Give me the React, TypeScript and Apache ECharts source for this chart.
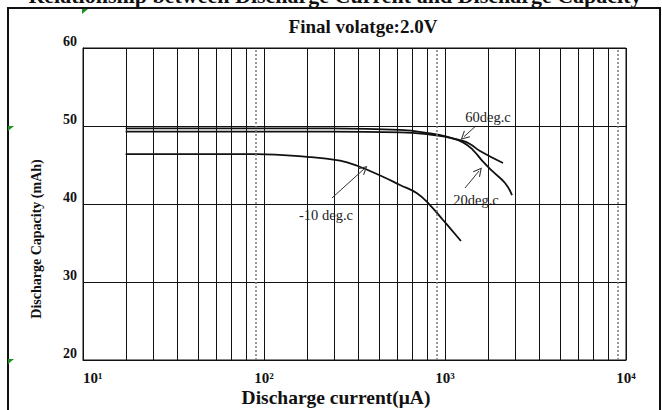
import React, { useEffect, useRef } from "react";
import * as echarts from "echarts";

// ---- data ----
const current20 = [17.2, 231, 564, 826, 1022, 1257, 1428, 1622, 1841, 2146, 2345];
const capacity20 = [49.7, 49.7, 49.5, 49.06, 48.63, 47.9, 46.92, 45.42, 44.14, 42.69, 41.15];
const current60 = [17.2, 231, 564, 826, 1022, 1257, 1374, 1561, 2091];
const capacity60 = [49.27, 49.27, 49.17, 48.91, 48.59, 48.1, 47.7, 46.79, 45.26];
const currentM10 = [17.2, 91, 173, 263, 327, 454, 564, 700, 826, 975, 1225];
const capacityM10 = [46.4, 46.4, 46.05, 45.55, 44.9, 43.5, 42.44, 41.37, 39.87, 37.95, 35.26];

const decades = [10, 100, 1000];
const minorMultipliers = [1.73, 2.44, 3.31, 4.32, 5.43, 6.57, 7.95];
const dottedMultiplier = 9;
const xTickLabels: Record<number, string> = { 10: "10¹", 100: "10²", 1000: "10³", 10000: "10⁴" };
const yMin = 20;
const yMax = 60;
const yStep = 10;

const arrows60 = [[1465, 49.91], [1274, 48.63]];
const arrows20 = [[1290, 42.05], [1542, 44.23]];
const arrowsM10 = [[237.5, 40.77], [356.8, 44.49]];

const SERIF = '"Liberation Serif", "DejaVu Serif", serif';

const zip = (xs: number[], ys: number[]) => xs.map((x, i) => [x, ys[i]]);

export default function App() {
  const ref = useRef<HTMLDivElement>(null);
  useEffect(() => {
    if (!ref.current) return;
    const chart = echarts.init(ref.current, undefined, { renderer: "svg" });

    const minorLines: any[] = [];
    const dottedLines: any[] = [];
    decades.forEach((d) => {
      minorMultipliers.forEach((m) => minorLines.push({ xAxis: d * m }));
      dottedLines.push({ xAxis: d * dottedMultiplier });
    });

    const chevron = "path://M0,0 L5,9 L4,9.6 L0,2.4 L-4,9.6 L-5,9 Z";
    const arrowLine = (pts: number[][]) => [{ coord: pts[0] }, { coord: pts[1] }];

    const curveStyle = { color: "#111", width: 1.8 };

    const green = "#1f8f1f";
    chart.setOption({
      animation: false,
      backgroundColor: "#fff",
      grid: {
        left: 83,
        right: 36,
        top: 48,
        bottom: 50,
        show: true,
        borderColor: "#111",
        borderWidth: 1,
      },
      xAxis: {
        type: "log",
        logBase: 10,
        min: 10,
        max: 10000,
        axisLine: { show: true, lineStyle: { color: "#111" } },
        axisTick: { show: false },
        splitLine: { show: true, lineStyle: { color: "#111", width: 1 } },
        axisLabel: {
          margin: 10,
          fontFamily: SERIF,
          fontWeight: "bold",
          fontSize: 15,
          color: "#111",
          alignMinLabel: "left",
          formatter: (v: number) => xTickLabels[Math.round(v)] || "",
        },
      },
      yAxis: {
        type: "value",
        min: yMin,
        max: yMax,
        interval: yStep,
        axisLine: { show: true, lineStyle: { color: "#111" } },
        axisTick: { show: false },
        splitLine: { show: true, lineStyle: { color: "#111", width: 1 } },
        axisLabel: {
          margin: 6,
          verticalAlign: "bottom",
          fontFamily: SERIF,
          fontWeight: "bold",
          fontSize: 14,
          color: "#111",
        },
      },
      series: [
        {
          name: "grid-minor",
          type: "line",
          data: [],
          silent: true,
          markLine: {
            silent: true,
            symbol: "none",
            label: { show: false },
            lineStyle: { color: "#111", width: 1, type: "solid" },
            data: minorLines,
          },
        },
        {
          name: "grid-dotted",
          type: "line",
          data: [],
          silent: true,
          markLine: {
            silent: true,
            symbol: "none",
            label: { show: false },
            lineStyle: { color: "#777", width: 1.5, type: [2, 2] },
            data: dottedLines,
          },
        },
        {
          name: "20deg.c",
          type: "line",
          data: zip(current20, capacity20),
          showSymbol: false,
          smooth: 0.45,
          lineStyle: curveStyle,
        },
        {
          name: "60deg.c",
          type: "line",
          data: zip(current60, capacity60),
          showSymbol: false,
          smooth: 0.45,
          lineStyle: curveStyle,
        },
        {
          name: "-10deg.c",
          type: "line",
          data: zip(currentM10, capacityM10),
          showSymbol: false,
          smooth: 0.45,
          lineStyle: curveStyle,
        },
        {
          name: "arrows",
          type: "line",
          data: [],
          silent: true,
          markLine: {
            silent: true,
            symbol: ["none", chevron],
            symbolSize: [9, 9],
            label: { show: false },
            lineStyle: { color: "#333", width: 1, type: "solid" },
            data: [arrowLine(arrows60), arrowLine(arrows20), arrowLine(arrowsM10)],
          },
        },
      ],
      graphic: [
        {
          type: "rect",
          shape: { x: 8, y: 8, width: 652, height: 420 },
          style: { fill: "none", stroke: "#111", lineWidth: 2 },
          silent: true,
        },
        {
          type: "text",
          x: 335,
          y: 6,
          style: {
            text: "Relationship between Discharge Current and Discharge Capacity",
            font: `bold 22px ${SERIF}`,
            fill: "#111",
            align: "center",
            verticalAlign: "bottom",
          },
        },
        {
          type: "text",
          x: 363,
          y: 26,
          style: {
            text: "Final volatge:2.0V",
            font: `bold 19px ${SERIF}`,
            fill: "#111",
            align: "center",
            verticalAlign: "middle",
          },
        },
        {
          type: "text",
          x: 336,
          y: 397,
          style: {
            text: "Discharge current(μA)",
            font: `bold 19.5px ${SERIF}`,
            fill: "#111",
            align: "center",
            verticalAlign: "middle",
          },
        },
        {
          type: "text",
          x: 36,
          y: 239,
          rotation: Math.PI / 2,
          style: {
            text: "Discharge Capacity (mAh)",
            font: `bold 14px ${SERIF}`,
            fill: "#111",
            align: "center",
            verticalAlign: "middle",
          },
        },
        {
          type: "text",
          x: 488,
          y: 117,
          style: { text: "60deg.c", font: `14.5px ${SERIF}`, fill: "#222", align: "center", verticalAlign: "middle" },
        },
        {
          type: "text",
          x: 476,
          y: 200,
          style: { text: "20deg.c", font: `14.5px ${SERIF}`, fill: "#222", align: "center", verticalAlign: "middle" },
        },
        {
          type: "text",
          x: 326,
          y: 215,
          style: { text: "-10 deg.c", font: `14.5px ${SERIF}`, fill: "#222", align: "center", verticalAlign: "middle" },
        },
        { type: "polygon", shape: { points: [[8, 126], [14, 126], [8, 131]] }, style: { fill: green } },
        { type: "polygon", shape: { points: [[8, 359], [14, 359], [8, 364]] }, style: { fill: green } },
        { type: "polygon", shape: { points: [[82, 9], [88, 9], [82, 14]] }, style: { fill: green } },
      ],
    });
    return () => chart.dispose();
  }, []);
  return (
    <div
      ref={ref}
      style={{ position: "fixed", left: 0, top: 0, width: 662, height: 410, background: "#fff" }}
    />
  );
}
